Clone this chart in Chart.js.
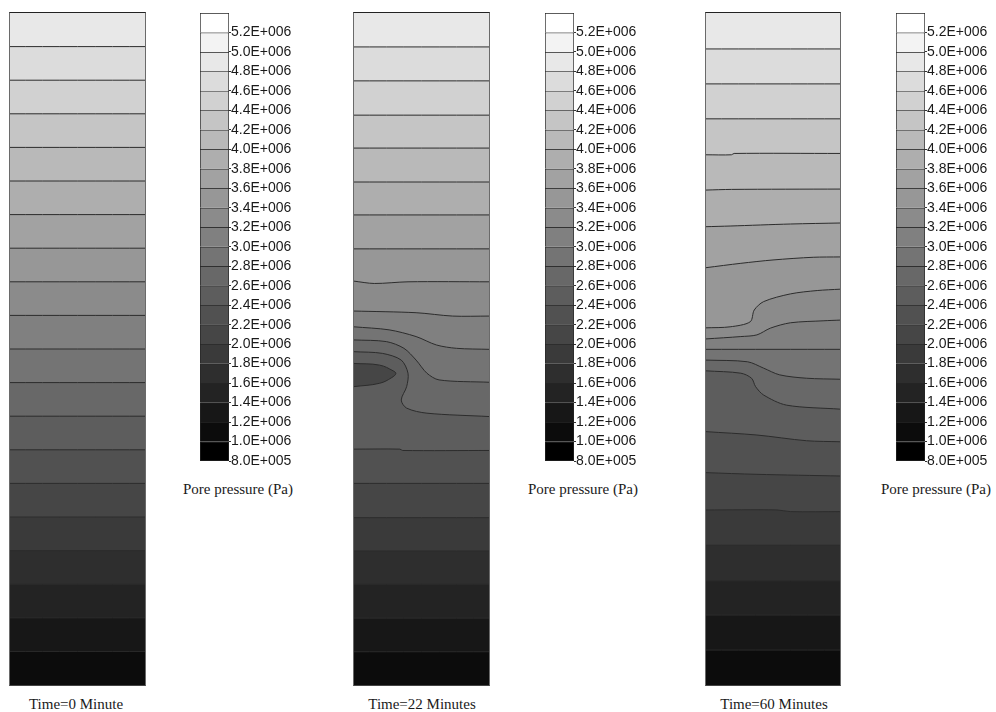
<!DOCTYPE html>
<html>
<head>
<meta charset="utf-8">
<script src="https://cdn.jsdelivr.net/npm/chart.js@4.4.1/dist/chart.umd.min.js"></script>
<style>
body { margin: 0; background: #fff; width: 996px; height: 712px; position: relative; overflow: hidden; }
.panel { position: absolute; border: 1px solid #6a6a6a; border-top-color: #222; border-bottom-color: #444; }
.panel canvas, .bar { display: block; }
.bar { position: absolute; }
.cap { position: absolute; font-family: "Liberation Serif", "Times New Roman", serif; font-size: 15px; color: #1a1a1a; white-space: nowrap; transform: translate(-50%, -50%); }
</style>
</head>
<body>

<div class="panel" style="left:9px;top:12px"><canvas id="p0" width="135" height="672"></canvas></div>
<div class="panel" style="left:353px;top:12px"><canvas id="p1" width="135" height="672"></canvas></div>
<div class="panel" style="left:705px;top:12px"><canvas id="p2" width="134" height="672"></canvas></div>

<canvas class="bar" id="c0" width="100" height="468" style="left:200px;top:3px"></canvas>
<canvas class="bar" id="c1" width="100" height="468" style="left:545px;top:3px"></canvas>
<canvas class="bar" id="c2" width="100" height="468" style="left:896px;top:3px"></canvas>

<div class="cap" style="left:238px;top:489px">Pore pressure (Pa)</div>
<div class="cap" style="left:583px;top:489px">Pore pressure (Pa)</div>
<div class="cap" style="left:936px;top:489px">Pore pressure (Pa)</div>

<div class="cap" id="t0" style="left:76px;top:704px"></div>
<div class="cap" id="t1" style="left:422px;top:704px"></div>
<div class="cap" id="t2" style="left:774px;top:704px"></div>

<script>
// colour bar levels (Pa)
const levels = [5.2e6, 5.0e6, 4.8e6, 4.6e6, 4.4e6, 4.2e6, 4.0e6, 3.8e6, 3.6e6, 3.4e6, 3.2e6, 3.0e6,
                2.8e6, 2.6e6, 2.4e6, 2.2e6, 2.0e6, 1.8e6, 1.6e6, 1.4e6, 1.2e6, 1.0e6, 8.0e5];
const scaleTop = 5.4e6;
const step = 2e5;

const titles = ['Time=0 Minute', 'Time=22 Minutes', 'Time=60 Minutes'];

// isobar value of each contour, top edge first
const lineLevels = [5.0e6, 4.8e6, 4.6e6, 4.4e6, 4.2e6, 4.0e6, 3.8e6, 3.6e6, 3.4e6, 3.2e6,
                    3.0e6, 2.8e6, 2.6e6, 2.4e6, 2.2e6, 2.0e6, 1.8e6, 1.6e6, 1.4e6, 1.2e6];

// contours as [x (fraction of width), depth (0 top .. 20 bottom)]
const t0Lines = [
  [[0, 0], [1, 0]], [[0, 1], [1, 1]], [[0, 2], [1, 2]], [[0, 3], [1, 3]], [[0, 4], [1, 4]],
  [[0, 5], [1, 5]], [[0, 6], [1, 6]], [[0, 7], [1, 7]], [[0, 8], [1, 8]], [[0, 9], [1, 9]],
  [[0, 10], [1, 10]], [[0, 11], [1, 11]], [[0, 12], [1, 12]], [[0, 13], [1, 13]], [[0, 14], [1, 14]],
  [[0, 15], [1, 15]], [[0, 16], [1, 16]], [[0, 17], [1, 17]], [[0, 18], [1, 18]], [[0, 19], [1, 19]]
];

const t22Lines = [
  [[0, 0], [1, 0]],
  [[0, 1.01], [1, 1.01]],
  [[0, 2.02], [1, 2.02]],
  [[0, 3.04], [1, 3.04]],
  [[0, 4.02], [1, 4.02]],
  [[0, 5.03], [1, 5.03]],
  [[0, 6.01], [1, 6.01]],
  [[0, 7.02], [1, 7.02]],
  [[0, 7.98], [0.15, 8.05], [0.4, 8.0], [1, 8.0]],
  [[0, 8.87], [0.46, 8.92], [0.73, 9.02], [1, 9.02]],
  [[0, 9.34], [0.26, 9.43], [0.46, 9.63], [0.61, 9.88], [0.76, 9.98], [1, 10.01]],
  [[0, 9.73], [0.24, 9.78], [0.37, 9.98], [0.46, 10.33], [0.54, 10.72], [0.63, 10.92], [1, 10.99]],
  [[0, 10.08], [0.21, 10.13], [0.35, 10.33], [0.40, 10.72], [0.39, 11.12], [0.35, 11.52], [0.39, 11.76], [0.54, 11.91], [1, 12.01]],
  [[0, 12.98], [0.34, 12.98], [0.36, 13.02], [1, 13.02]],
  [[0, 14.0], [1, 14.0]],
  [[0, 15.02], [1, 15.02]],
  [[0, 16.01], [1, 16.01]],
  [[0, 17.0], [1, 17.0]],
  [[0, 18.01], [1, 18.01]],
  [[0, 19.01], [1, 19.01]]
];
// closed low-pressure pocket on the left wall at 22 min
const t22Pocket = [[0, 10.43], [0.19, 10.48], [0.29, 10.65], [0.31, 10.73], [0.28, 10.85], [0.19, 11.02], [0, 11.12]];
const t22PocketLevel = 2.4e6;

const t60Lines = [
  [[0, 0], [1, 0]],
  [[0, 1.07], [1, 1.07]],
  [[0, 2.11], [1, 2.11]],
  [[0, 3.15], [1, 3.15]],
  [[0, 4.22], [0.19, 4.22], [0.21, 4.18], [1, 4.18]],
  [[0, 5.27], [0.19, 5.25], [1, 5.24]],
  [[0, 6.36], [0.18, 6.34], [0.63, 6.28], [1, 6.25]],
  [[0, 7.58], [0.26, 7.45], [0.50, 7.35], [0.80, 7.27], [1, 7.26]],
  [[0, 9.37], [0.18, 9.34], [0.33, 9.19], [0.36, 8.84], [0.43, 8.59], [0.63, 8.36], [0.83, 8.26], [1, 8.22]],
  [[0, 9.70], [0.26, 9.63], [0.38, 9.58], [0.48, 9.38], [0.63, 9.22], [0.88, 9.16], [1, 9.14]],
  [[0, 10.01], [1, 10.01]],
  [[0, 10.33], [0.31, 10.38], [0.43, 10.57], [0.55, 10.77], [0.75, 10.87], [1, 10.90]],
  [[0, 10.65], [0.26, 10.72], [0.34, 10.87], [0.37, 11.12], [0.43, 11.37], [0.60, 11.67], [1, 11.79]],
  [[0, 12.46], [0.38, 12.56], [0.75, 12.73], [1, 12.76]],
  [[0, 13.68], [0.38, 13.73], [1, 13.78]],
  [[0, 14.79], [0.53, 14.79], [0.63, 14.84], [1, 14.84]],
  [[0, 15.84], [1, 15.84]],
  [[0, 16.90], [1, 16.90]],
  [[0, 17.92], [1, 17.92]],
  [[0, 18.96], [1, 18.96]]
];

const depthMax = 20;

// grey for the band just below a given level
function bandColor(level) {
    let k = Math.round((scaleTop - level) / step);
    let g = Math.round(255 * (1 - k / 22));
    return 'rgb(' + g + ',' + g + ',' + g + ')';
}

function sci(v) {
    let e = Math.floor(Math.log10(v) + 1e-9);
    let m = v / Math.pow(10, e);
    return m.toFixed(1) + 'E+' + String(e).padStart(3, '0');
}

function contourChart(id, lines, pocket, pocketLevel) {
    let datasets = lines.map(function(pts, i) {
        return {
            data: pts.map(p => ({x: p[0], y: p[1]})),
            order: 100 - i,
            fill: {value: depthMax},
            backgroundColor: bandColor(lineLevels[i]),
            borderColor: '#2c2c2c',
            borderWidth: i === 0 ? 0 : 1,
            tension: 0.3
        };
    });

    if (pocket) {
        datasets.push({
            data: pocket.map(p => ({x: p[0], y: p[1]})),
            order: 0,
            fill: 'shape',
            backgroundColor: bandColor(pocketLevel - step),
            borderColor: '#2c2c2c',
            borderWidth: 1,
            tension: 0.4
        });
    }

    new Chart(document.getElementById(id), {
        type: 'line',
        data: {datasets: datasets},
        options: {
            responsive: false,
            animation: false,
            events: [],
            layout: {padding: 0},
            elements: {point: {radius: 0}},
            plugins: {
                legend: {display: false},
                tooltip: {enabled: false},
                filler: {drawTime: 'beforeDatasetsDraw'}
            },
            scales: {
                x: {type: 'linear', min: 0, max: 1, display: false},
                y: {type: 'linear', min: 0, max: depthMax, reverse: true, display: false}
            }
        }
    });
}

function colourBar(id) {
    let bands = levels.map(function(lo, k) {
        let hi = k === 0 ? scaleTop : levels[k - 1];
        return {
            data: [[lo, hi]],
            backgroundColor: bandColor(hi),
            borderColor: '#262626',
            borderWidth: {top: 1, left: 1, right: 1, bottom: k === levels.length - 1 ? 1 : 0},
            borderSkipped: false,
            barPercentage: 1,
            categoryPercentage: 1,
            grouped: false
        };
    });

    new Chart(document.getElementById(id), {
        type: 'bar',
        data: {labels: [''], datasets: bands},
        options: {
            responsive: false,
            animation: false,
            events: [],
            layout: {padding: {top: 10, bottom: 10, left: 0, right: 0}},
            plugins: {legend: {display: false}, tooltip: {enabled: false}},
            scales: {
                x: {display: false},
                y: {
                    position: 'right',
                    min: levels[levels.length - 1],
                    max: scaleTop,
                    grid: {display: true, drawOnChartArea: false, drawTicks: true, tickLength: 2, color: '#333'},
                    border: {display: false},
                    afterBuildTicks: function(s) { s.ticks = levels.map(v => ({value: v})); },
                    afterFit: function(s) { s.width = 71; },
                    ticks: {
                        padding: 0,
                        autoSkip: false,
                        color: '#1a1a1a',
                        font: {family: '"Liberation Sans", Arial, sans-serif', size: 14},
                        callback: v => sci(v)
                    }
                }
            }
        }
    });
}

contourChart('p0', t0Lines);
contourChart('p1', t22Lines, t22Pocket, t22PocketLevel);
contourChart('p2', t60Lines);

colourBar('c0');
colourBar('c1');
colourBar('c2');

titles.forEach((t, i) => { document.getElementById('t' + i).textContent = t; });
</script>
</body>
</html>
